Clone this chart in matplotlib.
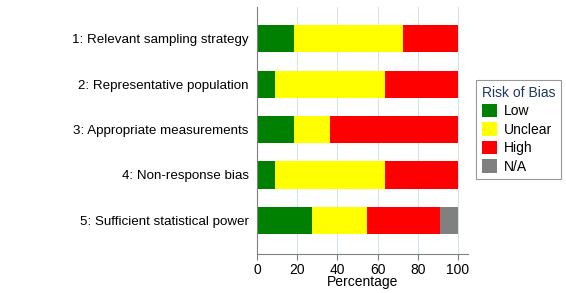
import matplotlib
matplotlib.use("Agg")
import matplotlib.pyplot as plt
import numpy as np

plt.rcParams['font.family'] = ['Liberation Sans', 'DejaVu Sans']

domains = [
    "1: Relevant sampling strategy",
    "2: Representative population",
    "3: Appropriate measurements",
    "4: Non-response bias",
    "5: Sufficient statistical power",
]
low = [18.2, 9.1, 18.2, 9.1, 27.3]
unclear = [54.5, 54.5, 18.2, 54.5, 27.3]
high = [27.3, 36.4, 63.6, 36.4, 36.4]
na = [0, 0, 0, 0, 9.1]

labels = ["Low", "Unclear", "High", "N/A"]
colors = ["#008000", "#ffff00", "#ff0000", "#808080"]

fig = plt.figure(figsize=(5.66, 2.93), dpi=100)
ax = fig.add_axes([0.454, 0.132, 0.373, 0.844])

y = np.arange(len(domains))
left = np.zeros(len(domains))
for vals, lab, col in zip([low, unclear, high, na], labels, colors):
    ax.barh(y, vals, left=left, height=0.6, color=col, label=lab)
    left += np.array(vals)

ax.set_ylim(4.75, -0.7)
ax.set_xlim(0, 105)
ax.set_xticks([0, 20, 40, 60, 80, 100])
ax.set_yticks(y)
ax.set_yticklabels(domains, fontsize=9.6)
ax.tick_params(axis="x", labelsize=10, color="#808080", length=4, pad=2)
ax.tick_params(axis="y", length=0, pad=6)
ax.set_xlabel("Percentage", fontsize=10, labelpad=-1)
ax.xaxis.grid(True, color="#d5e3ea", linewidth=0.8)
ax.set_axisbelow(True)
for s in ["top", "right"]:
    ax.spines[s].set_visible(False)
for s in ["left", "bottom"]:
    ax.spines[s].set_color("#808080")

leg = fig.legend(loc="upper left", bbox_to_anchor=(0.841, 0.727), borderaxespad=0,
                 title="Risk of Bias",
                 fontsize=10, title_fontsize=10, frameon=True, fancybox=False,
                 edgecolor="#808080", handlelength=1.1, handleheight=1.1,
                 handletextpad=0.5, labelspacing=0.3, borderpad=0.4)
leg.get_title().set_color("#1f3864")
leg.get_frame().set_linewidth(0.8)
leg._legend_box.align = "left"

fig.savefig("out.png", dpi=100)
